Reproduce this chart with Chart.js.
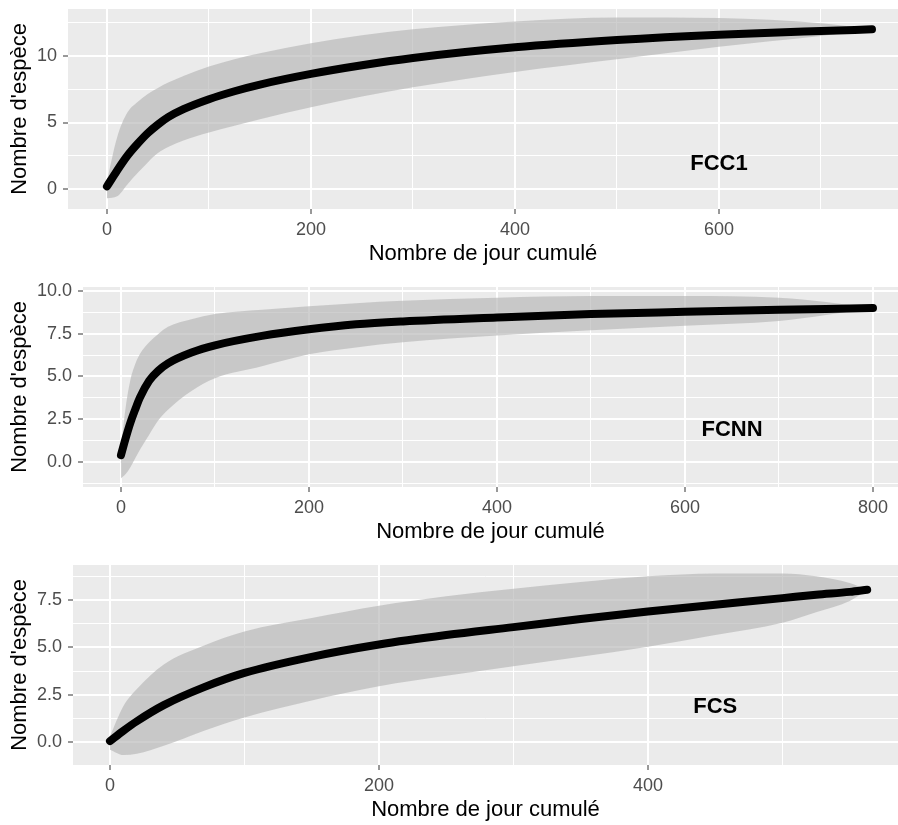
<!DOCTYPE html>
<html lang="fr">
<head>
  <meta charset="UTF-8">
  <title>Nombre d'espèce - FCC1 / FCNN / FCS</title>
  <script src="https://cdn.jsdelivr.net/npm/chart.js@4.4.1/dist/chart.umd.min.js"></script>
  <style>
    html, body { margin: 0; padding: 0; background: #fff; width: 898px; height: 825px; overflow: hidden; position: relative; }
    canvas { position: absolute; left: 0; }
  </style>
</head>
<body>
  <canvas id="fcc1Chart" width="898" height="286" style="top:-15px"></canvas>
  <canvas id="fcnnChart" width="898" height="286" style="top:263px"></canvas>
  <canvas id="fcsChart" width="898" height="286" style="top:541px"></canvas>

  <script>
    // FCC1
    const fcc1Days  = [0, 10, 20, 30, 40, 50, 60, 75, 100, 125, 150, 200, 250, 300, 400, 500, 600, 700, 750];
    const fcc1Mean  = [0.2, 1.4, 2.5, 3.4, 4.2, 4.85, 5.4, 6.0, 6.75, 7.35, 7.85, 8.65, 9.3, 9.85, 10.65, 11.2, 11.6, 11.88, 12.0];
    const fcc1Upper = [0.6, 3.9, 5.75, 6.55, 7.15, 7.6, 8.0, 8.5, 9.2, 9.75, 10.2, 10.95, 11.55, 12.0, 12.6, 12.9, 12.85, 12.45, 12.0];
    const fcc1Lower = [-0.7, -0.55, 0.35, 1.2, 2.0, 2.7, 3.15, 3.65, 4.25, 4.75, 5.25, 6.15, 6.95, 7.65, 8.8, 9.75, 10.7, 11.5, 12.0];
    const fcc1XMajor = [0, 200, 400, 600];
    const fcc1XMinor = [100, 300, 500, 700];
    const fcc1YMajor = [0, 5, 10];
    const fcc1YMinor = [2.5, 7.5, 12.5];

    // FCNN
    const fcnnDays  = [0, 5, 10, 15, 20, 30, 40, 50, 75, 100, 150, 200, 250, 300, 400, 500, 600, 700, 750, 800];
    const fcnnMean  = [0.4, 1.4, 2.3, 3.05, 3.75, 4.75, 5.35, 5.77, 6.4, 6.82, 7.37, 7.76, 8.05, 8.22, 8.45, 8.65, 8.78, 8.9, 8.95, 9.0];
    const fcnnUpper = [0.8, 3.2, 4.8, 5.7, 6.3, 7.0, 7.5, 7.9, 8.35, 8.65, 8.9, 9.1, 9.28, 9.42, 9.6, 9.7, 9.7, 9.6, 9.35, 9.0];
    const fcnnLower = [-0.95, -0.7, -0.3, 0.2, 0.7, 1.6, 2.45, 3.05, 4.15, 4.9, 5.6, 6.3, 6.7, 7.0, 7.4, 7.7, 7.97, 8.25, 8.6, 9.0];
    const fcnnXMajor = [0, 200, 400, 600, 800];
    const fcnnXMinor = [100, 300, 500, 700];
    const fcnnYMajor = [0, 2.5, 5, 7.5, 10];
    const fcnnYMinor = [-1.25, 1.25, 3.75, 6.25, 8.75];

    // FCS
    const fcsDays  = [0, 10, 20, 40, 70, 100, 150, 200, 250, 300, 350, 400, 450, 500, 525, 550, 563];
    const fcsMean  = [0.05, 0.6, 1.1, 1.95, 2.9, 3.65, 4.5, 5.15, 5.65, 6.07, 6.5, 6.9, 7.25, 7.6, 7.78, 7.93, 8.04];
    const fcsUpper = [0.3, 1.9, 2.8, 4.1, 5.1, 5.84, 6.55, 7.2, 7.7, 8.1, 8.45, 8.75, 8.9, 8.9, 8.75, 8.4, 8.04];
    const fcsLower = [-0.4, -0.68, -0.62, -0.2, 0.6, 1.3, 2.2, 2.95, 3.5, 4.0, 4.5, 5.04, 5.65, 6.3, 6.85, 7.45, 8.04];
    const fcsXMajor = [0, 200, 400];
    const fcsXMinor = [100, 300, 500];
    const fcsYMajor = [0, 2.5, 5, 7.5];
    const fcsYMinor = [1.25, 3.75, 6.25, 8.75];

    const FONT = "'Liberation Sans', Arial, sans-serif";
    const BAND = 'rgba(182, 182, 182, 0.65)';

    // grey panel behind the plot
    const panelBg = {
      id: 'panelBg',
      beforeDraw(chart) {
        const { ctx, chartArea: a } = chart;
        ctx.save();
        ctx.fillStyle = '#ebebeb';
        ctx.fillRect(a.left, a.top, a.right - a.left, a.bottom - a.top);
        ctx.restore();
      }
    };

    // site name written inside the panel
    const siteLabel = {
      id: 'siteLabel',
      afterDraw(chart, args, opts) {
        const { ctx, scales } = chart;
        ctx.save();
        ctx.font = 'bold 22px ' + FONT;
        ctx.fillStyle = '#000';
        ctx.textAlign = 'center';
        ctx.textBaseline = 'middle';
        ctx.fillText(opts.text, scales.x.getPixelForValue(opts.x), scales.y.getPixelForValue(opts.y));
        ctx.restore();
      }
    };

    function pts(xs, ys) {
      return xs.map((x, i) => ({ x: x, y: ys[i] }));
    }

    function axis(major, minor, fmt, min, max, fit) {
      return {
        type: 'linear',
        min: min,
        max: max,
        afterFit: fit,
        afterBuildTicks: (s) => {
          s.ticks = major.concat(minor).filter(v => v >= min && v <= max)
            .sort((a, b) => a - b).map(v => ({ value: v }));
        },
        ticks: {
          autoSkip: false,
          maxRotation: 0,
          color: '#4d4d4d',
          font: { family: FONT, size: 18 },
          callback: (v) => major.includes(v) ? fmt(v) : ''
        },
        grid: {
          color: '#ffffff',
          lineWidth: (c) => major.includes(c.tick.value) ? 2 : 1,
          tickColor: (c) => major.includes(c.tick.value) ? '#333333' : 'rgba(0,0,0,0)',
          tickWidth: 1,
          tickLength: 5
        },
        border: { display: false }
      };
    }

    function makePanel(id, p) {
      const x = axis(p.xMajor, p.xMinor, v => String(v), p.xMin, p.xMax, s => { s.height = 62; });
      x.ticks.padding = 5;
      x.title = { display: true, text: 'Nombre de jour cumulé', color: '#000',
                  font: { family: FONT, size: 22, lineHeight: 1.2 }, padding: { top: 0, bottom: 3.8 } };
      const y = axis(p.yMajor, p.yMinor, p.yFmt, p.yMin, p.yMax, s => { s.width = p.left; });
      y.ticks.padding = 6;
      y.title = { display: true, text: "Nombre d'espèce", color: '#000',
                  font: { family: FONT, size: 22, lineHeight: 1.2 }, padding: { top: 7, bottom: 0 } };

      new Chart(document.getElementById(id), {
        type: 'line',
        data: {
          datasets: [
            { data: pts(p.days, p.mean), borderColor: '#000', borderWidth: 8,
              borderCapStyle: 'round', borderJoinStyle: 'round', pointRadius: 0,
              cubicInterpolationMode: 'monotone', fill: false },
            { data: pts(p.days, p.upper), borderColor: 'rgba(0,0,0,0)', borderWidth: 0,
              backgroundColor: BAND, pointRadius: 0, cubicInterpolationMode: 'monotone', fill: '+1' },
            { data: pts(p.days, p.lower), borderColor: 'rgba(0,0,0,0)', borderWidth: 0,
              pointRadius: 0, cubicInterpolationMode: 'monotone', fill: false }
          ]
        },
        options: {
          responsive: false,
          animation: false,
          devicePixelRatio: 1,
          layout: { padding: { top: 24, right: 0, bottom: 0, left: 0 } },
          plugins: {
            legend: { display: false },
            tooltip: { enabled: false },
            siteLabel: { text: p.name, x: p.labelX, y: p.labelY }
          },
          scales: { x: x, y: y }
        },
        plugins: [panelBg, siteLabel]
      });
    }

    makePanel('fcc1Chart', {
      name: 'FCC1', labelX: 600, labelY: 1.85,
      days: fcc1Days, mean: fcc1Mean, upper: fcc1Upper, lower: fcc1Lower,
      xMajor: fcc1XMajor, xMinor: fcc1XMinor, yMajor: fcc1YMajor, yMinor: fcc1YMinor,
      xMin: -38.2, xMax: 775.5, yMin: -1.5, yMax: 13.53, left: 68,
      yFmt: v => String(v)
    });

    makePanel('fcnnChart', {
      name: 'FCNN', labelX: 650, labelY: 1.9,
      days: fcnnDays, mean: fcnnMean, upper: fcnnUpper, lower: fcnnLower,
      xMajor: fcnnXMajor, xMinor: fcnnXMinor, yMajor: fcnnYMajor, yMinor: fcnnYMinor,
      xMin: -40.4, xMax: 826.6, yMin: -1.46, yMax: 10.23, left: 83,
      yFmt: v => v.toFixed(1)
    });

    makePanel('fcsChart', {
      name: 'FCS', labelX: 450, labelY: 1.85,
      days: fcsDays, mean: fcsMean, upper: fcsUpper, lower: fcsLower,
      xMajor: fcsXMajor, xMinor: fcsXMinor, yMajor: fcsYMajor, yMinor: fcsYMinor,
      xMin: -27.5, xMax: 585.9, yMin: -1.21, yMax: 9.35, left: 73,
      yFmt: v => v.toFixed(1)
    });
  </script>
</body>
</html>
